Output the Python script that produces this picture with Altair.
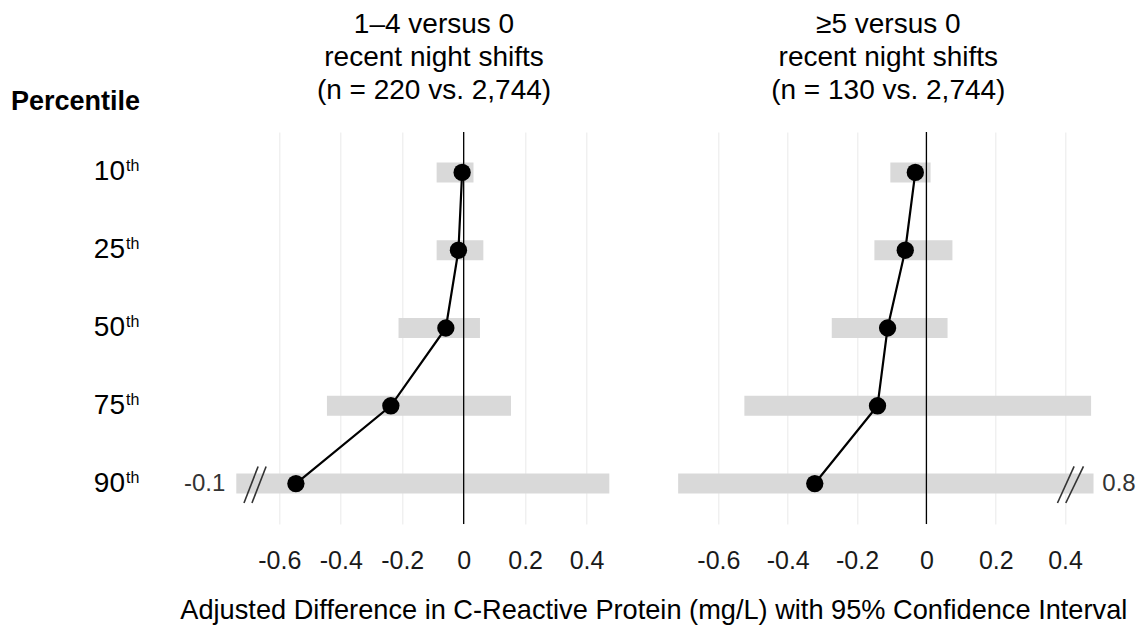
import altair as alt
import pandas as pd

FONT = "Liberation Sans, Arial, Helvetica, sans-serif"

# ---------------- data ----------------
row_index = [0, 1, 2, 3, 4]
percentile_num = ["10", "25", "50", "75", "90"]
percentile_suffix = ["th", "th", "th", "th", "th"]

# panel 1: 1-4 versus 0 recent night shifts
p1_est = [-0.005, -0.017, -0.058, -0.237, -0.546]
p1_lo = [-0.088, -0.088, -0.212, -0.445, -0.74]   # last one truncated (break)
p1_hi = [0.032, 0.064, 0.053, 0.154, 0.474]

# panel 2: >=5 versus 0 recent night shifts
p2_est = [-0.032, -0.061, -0.112, -0.141, -0.322]
p2_lo = [-0.104, -0.150, -0.273, -0.525, -0.716]
p2_hi = [0.012, 0.075, 0.061, 0.475, 0.482]        # last one truncated (break)

title_1 = "1–4 versus 0\nrecent night shifts\n(n = 220 vs. 2,744)"
title_2 = "≥5 versus 0\nrecent night shifts\n(n = 130 vs. 2,744)"
header_text = ["Percentile"]
axis_title_text = ["Adjusted Difference in C-Reactive Protein (mg/L) with 95% Confidence Interval"]

tick_values = [-0.6, -0.4, -0.2, 0, 0.2, 0.4]

# break annotations (data units)
p1_break_label = ["-0.1"]
p2_break_label = ["0.8"]
p1_break_x_top = [-0.669, -0.643]
p1_break_x_bot = [-0.715, -0.689]
p2_break_x_top = [0.426, 0.453]
p2_break_x_bot = [0.378, 0.402]
break_row_top = 3.78
break_row_bot = 4.25

LABEL_EXPR = ("datum.value == 0 ? '0' : (datum.value < 0 ? '-' + format(-datum.value, '.1f') "
              ": format(datum.value, '.1f'))")


def make_panel(est, lo, hi, domain, width, title, title_x, bx_top, bx_bot,
               brk_label, brk_x, brk_align, brk_dx, left=False):
    df = pd.DataFrame({"row": row_index, "num": percentile_num,
                       "suf": percentile_suffix, "est": est, "lo": lo, "hi": hi})
    xs = alt.Scale(domain=domain, nice=False, zero=False)
    ys = alt.Scale(domain=[-0.52, 4.52], reverse=True, nice=False, zero=False)
    xax = alt.Axis(values=tick_values, grid=True, gridColor="#ebebeb", gridWidth=1.1,
                   domain=False, ticks=False, tickSize=0, labelPadding=24,
                   labelFontSize=25, labelFont=FONT, labelColor="#1a1a1a",
                   labelOverlap=False, labelFlush=False, labelExpr=LABEL_EXPR, title=None)
    base = alt.Chart(df)
    bars = base.mark_rule(strokeWidth=20, color="#d9d9d9", strokeCap="butt").encode(
        x=alt.X("lo:Q", scale=xs, axis=xax), x2="hi:Q",
        y=alt.Y("row:Q", scale=ys, axis=None))
    zero = alt.Chart(pd.DataFrame({"lo": [0]})).mark_rule(color="black", strokeWidth=1.3).encode(
        x=alt.X("lo:Q", scale=xs, axis=xax))
    line = base.mark_line(color="black", strokeWidth=2.2).encode(
        x=alt.X("est:Q", scale=xs, axis=xax), y=alt.Y("row:Q", scale=ys, axis=None),
        order="row:Q")
    pts = base.mark_circle(size=300, color="black", opacity=1).encode(
        x=alt.X("est:Q", scale=xs, axis=xax), y=alt.Y("row:Q", scale=ys, axis=None))
    bdf = pd.DataFrame({"xt": bx_top, "xb": bx_bot,
                        "yt": [break_row_top] * 2, "yb": [break_row_bot] * 2})
    brk = alt.Chart(bdf).mark_rule(color="#333333", strokeWidth=1.6).encode(
        x=alt.X("xt:Q", scale=xs, axis=xax), x2="xb:Q",
        y=alt.Y("yt:Q", scale=ys, axis=None), y2="yb:Q")
    ldf = pd.DataFrame({"lab": brk_label, "bx": [brk_x], "row": [4]})
    blab = alt.Chart(ldf).mark_text(font=FONT, fontSize=24, color="#333333",
                                    align=brk_align, baseline="middle", dx=brk_dx).encode(
        x=alt.X("bx:Q", scale=xs, axis=xax), y=alt.Y("row:Q", scale=ys, axis=None),
        text="lab:N")
    tdf = pd.DataFrame({"t": [title]})
    ttl = alt.Chart(tdf).mark_text(font=FONT, fontSize=28, color="black", align="center",
                                   baseline="middle", lineBreak="\n", lineHeight=33).encode(
        x=alt.value(title_x), y=alt.value(-107), text="t:N")
    layers = [bars, zero, line, pts, brk, blab, ttl]
    if left:
        nums = base.mark_text(font=FONT, fontSize=28, color="black", align="right",
                              baseline="middle").encode(
            x=alt.value(-111.3), y=alt.Y("row:Q", scale=ys, axis=None), text="num:N")
        sups = base.mark_text(font=FONT, fontSize=16, color="black", align="left",
                              baseline="middle", dy=-6).encode(
            x=alt.value(-110.3), y=alt.Y("row:Q", scale=ys, axis=None), text="suf:N")
        hdr = alt.Chart(pd.DataFrame({"h": header_text})).mark_text(
            font=FONT, fontSize=27, fontWeight="bold", color="black", align="right",
            baseline="middle").encode(x=alt.value(-96.3), y=alt.value(-30), text="h:N")
        axt = alt.Chart(pd.DataFrame({"a": axis_title_text})).mark_text(
            font=FONT, fontSize=27.2, color="black", align="center", baseline="middle").encode(
            x=alt.value(417.5), y=alt.value(479), text="a:N")
        layers += [nums, sups, hdr, axt]
    return alt.layer(*layers).properties(width=width, height=392)


p1 = make_panel(p1_est, p1_lo, p1_hi, [-0.74, 0.5], 381, title_1, 197.7,
                p1_break_x_top, p1_break_x_bot, p1_break_label, -0.74, "right", -11, left=True)
p2 = make_panel(p2_est, p2_lo, p2_hi, [-0.73, 0.49], 423, title_2, 215,
                p2_break_x_top, p2_break_x_bot, p2_break_label, 0.49, "left", 6)

chart = alt.hconcat(p1, p2, spacing=56, bounds="flush").properties(
    autosize=alt.AutoSizeParams(type="none"),
    padding={"left": 228.3, "top": 124, "right": 900.7, "bottom": 495},
).configure_view(stroke=None)

chart.save("out.html", embed_options={"renderer": "svg", "actions": False})
